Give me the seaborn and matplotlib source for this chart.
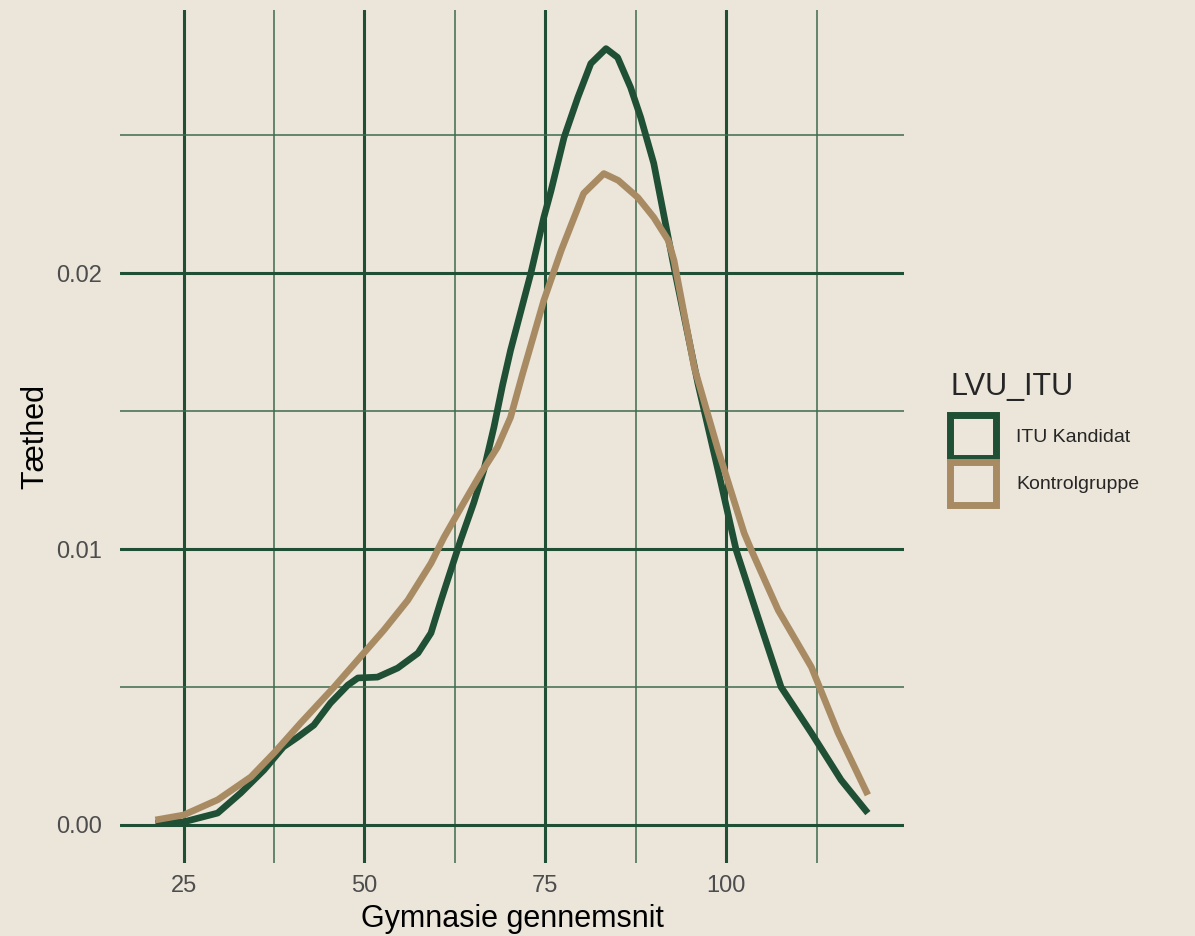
import matplotlib
matplotlib.use('Agg')
import matplotlib.pyplot as plt
from matplotlib.patches import Patch
from matplotlib.ticker import MultipleLocator
import seaborn as sns
import pandas as pd

BG = '#EBE5DA'
GREEN = '#1F4F35'
TAN = '#A88B63'

# ITU Kandidat density curve
itu_x = [21.1, 25.0, 29.7, 32.9, 36.1, 38.8, 40.8, 43.0, 45.3, 47.7, 49.1, 51.8,
         54.6, 57.4, 59.2, 60.6, 61.5, 63.3, 65.1, 66.5, 67.9, 69.1, 70.2, 73.0,
         74.8, 75.8, 77.6, 79.5, 81.3, 83.4, 85.0, 86.8, 88.2, 90.0, 92.8, 96.1,
         99.3, 101.4, 104.4, 107.6, 111.8, 115.9, 119.6]
itu_y = [0.00007, 0.00011, 0.00043, 0.00116, 0.00199, 0.00283, 0.00319, 0.00362,
         0.00442, 0.00507, 0.00533, 0.00536, 0.00569, 0.00623, 0.00696, 0.00815,
         0.00888, 0.01033, 0.01167, 0.01286, 0.01442, 0.01595, 0.01721, 0.02000,
         0.02203, 0.02300, 0.02493, 0.02638, 0.02761, 0.02815, 0.02783, 0.02674,
         0.02565, 0.02399, 0.02022, 0.01601, 0.01239, 0.00996, 0.00754, 0.00500,
         0.00333, 0.00163, 0.00043]

# Kontrolgruppe density curve
kon_x = [21.1, 25.0, 29.7, 34.3, 37.5, 41.2, 45.8, 49.9, 52.7, 56.0, 59.2, 61.0,
         63.7, 66.1, 68.4, 70.2, 71.8, 74.8, 77.2, 78.5, 80.3, 83.1, 85.1, 87.8,
         90.0, 92.0, 92.8, 95.6, 98.9, 102.5, 103.5, 107.2, 111.8, 115.5, 119.6]
kon_y = [0.00018, 0.00036, 0.00091, 0.00174, 0.00261, 0.00370, 0.00500, 0.00623,
         0.00707, 0.00815, 0.00949, 0.01043, 0.01167, 0.01275, 0.01370, 0.01478,
         0.01630, 0.01902, 0.02083, 0.02170, 0.02290, 0.02362, 0.02337, 0.02275,
         0.02203, 0.02120, 0.02047, 0.01659, 0.01359, 0.01058, 0.00996, 0.00779,
         0.00572, 0.00333, 0.00109]

groups = ['ITU Kandidat', 'Kontrolgruppe']

df = pd.DataFrame({
    'x': itu_x + kon_x,
    'y': itu_y + kon_y,
    'grp': [groups[0]] * len(itu_x) + [groups[1]] * len(kon_x),
})

sns.set_theme(style='white')
plt.rcParams['font.family'] = ['Liberation Sans', 'DejaVu Sans']

fig = plt.figure(figsize=(11.95, 9.36), dpi=100, facecolor=BG)
ax = fig.add_axes([0.1004, 0.078, 0.6561, 0.9113])
ax.set_facecolor(BG)

sns.lineplot(data=df, x='x', y='y', hue='grp', palette={groups[0]: GREEN, groups[1]: TAN},
             hue_order=groups, sort=False, estimator=None, linewidth=4.8,
             legend=False, ax=ax, zorder=3)
for ln in ax.lines:
    ln.set_solid_capstyle('butt')
    ln.set_solid_joinstyle('round')

ax.set_xlim(16.2, 124.6)
ax.set_ylim(-0.00138, 0.02955)
ax.xaxis.set_minor_locator(MultipleLocator(12.5))
ax.yaxis.set_minor_locator(MultipleLocator(0.005))
ax.set_yticks([0.0, 0.01, 0.02])
ax.set_yticklabels(['0.00', '0.01', '0.02'])
ax.set_xticks([25, 50, 75, 100])

ax.grid(which='major', color=GREEN, linewidth=2.2)
ax.grid(which='minor', color='#3F6A4E', linewidth=1.1)
ax.set_axisbelow(True)
for s in ax.spines.values():
    s.set_visible(False)
ax.tick_params(which='both', length=0)
ax.tick_params(axis='y', labelsize=17, labelcolor='#4D4D4D', pad=13)
ax.tick_params(axis='x', labelsize=17, labelcolor='#4D4D4D', pad=9)

ax.set_xlabel('Gymnasie gennemsnit', fontsize=22, color='black', labelpad=5)
ax.set_ylabel('Tæthed', fontsize=22, color='black', labelpad=4)

handles = [Patch(facecolor=BG, edgecolor=GREEN, linewidth=5),
           Patch(facecolor=BG, edgecolor=TAN, linewidth=5)]
leg = fig.legend(handles, groups, title='LVU_ITU', loc='upper left',
                 bbox_to_anchor=(0.782, 0.619), frameon=False, fontsize=14,
                 title_fontsize=22, handlelength=2.35, handleheight=3.05,
                 handletextpad=1.05, labelspacing=0.2, borderpad=0.3)
leg._legend_box.align = 'left'
leg._legend_box.sep = 9  # gap between title and keys

fig.savefig('out.png', dpi=100, facecolor=BG)
